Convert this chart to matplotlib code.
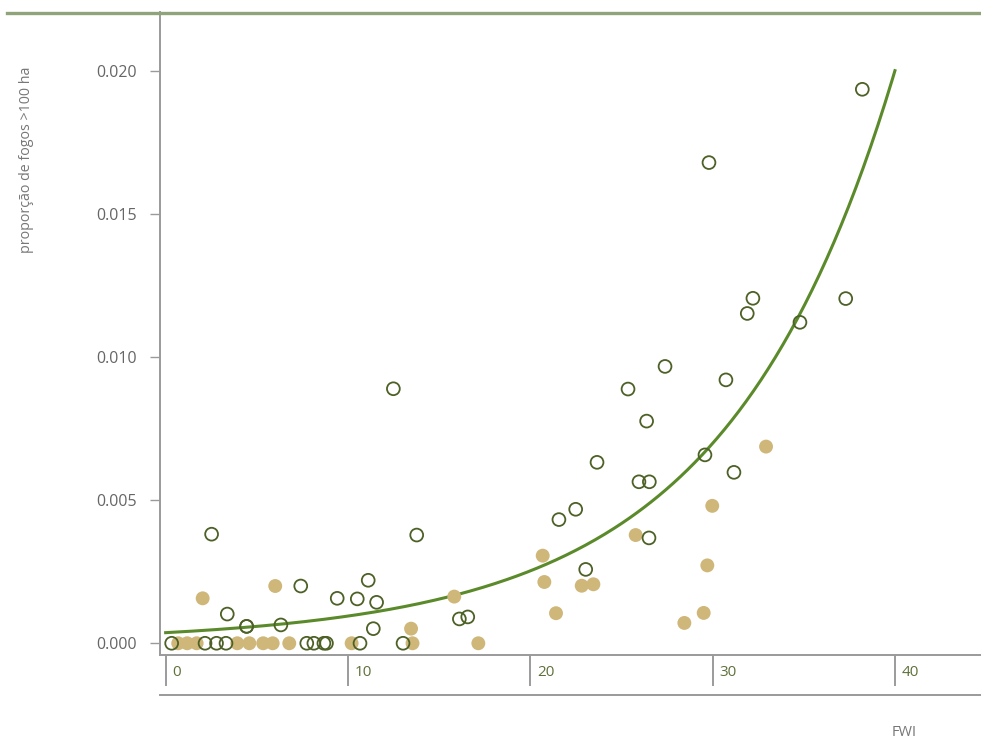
import numpy as np
import matplotlib
matplotlib.use('Agg')
from matplotlib import pyplot as plt
from matplotlib.lines import Line2D

# open circles (one group of years)
open_x = [0.33, 2.16, 2.79, 3.31, 7.74, 8.13, 8.68, 8.82, 10.66, 13.02,
          4.44, 4.44, 6.32, 3.38, 2.52, 7.41, 9.41, 10.51, 11.11, 11.57,
          11.39, 12.49, 13.77, 16.11, 16.57,
          21.57, 22.49, 23.04, 23.66, 25.36, 25.96, 26.38, 26.53, 26.51, 27.39,
          29.58, 29.80, 30.73, 31.17, 31.90, 32.21, 34.79, 37.30, 38.21]
open_y = [0, 0, 0, 0, 0, 0, 0, 0, 0, 0,
          0.00059, 0.00059, 0.00064, 0.00102, 0.00381, 0.00200, 0.00157, 0.00155, 0.00220, 0.00143,
          0.00051, 0.00889, 0.00378, 0.00085, 0.00092,
          0.00432, 0.00468, 0.00258, 0.00632, 0.00888, 0.00564, 0.00776, 0.00564, 0.00368, 0.00967,
          0.00658, 0.01679, 0.00920, 0.00597, 0.01152, 0.01205, 0.01121, 0.01204, 0.01935]

# filled points
fill_x = [0.69, 1.18, 1.70, 3.93, 4.59, 5.35, 5.87, 6.78, 10.20, 13.54, 17.15,
          2.03, 6.01, 13.46, 15.83, 20.68, 20.77, 21.41, 22.82, 23.46, 25.78,
          28.45, 29.51, 29.71, 29.98, 32.93]
fill_y = [0, 0, 0, 0, 0, 0, 0, 0, 0, 0, 0,
          0.00157, 0.00200, 0.00051, 0.00163, 0.00306, 0.00214, 0.00105, 0.00201, 0.00206, 0.00378,
          0.00071, 0.00106, 0.00272, 0.00480, 0.00687]

# fitted curve: y = exp(c0 + c1*x + c2*x^2), 0 <= FWI <= 40
c0, c1, c2 = -7.902, 0.09245, 0.0001825

xticks = [0, 10, 20, 30, 40]
yticks = [0.000, 0.005, 0.010, 0.015, 0.020]

plt.rcParams['font.family'] = ['Open Sans', 'DejaVu Sans']

fig = plt.figure(figsize=(9.81, 7.39), dpi=100)
ax = fig.add_axes([160/981, 84/739, 821/981, 643/739])

xc = np.linspace(0, 40, 300)
ax.plot(xc, np.exp(c0 + c1*xc + c2*xc**2), color='#5b8a2b', lw=2.2, zorder=2)
ax.scatter(fill_x, fill_y, s=100, color='#cfb679', edgecolors='none', zorder=3)
ax.scatter(open_x, open_y, s=85, facecolors='none', edgecolors='#4d6127', linewidths=1.3, zorder=4)

ax.set_xlim(-0.31, 44.72)
ax.set_ylim(-0.00041, 0.02205)

for s in ['top', 'right']:
    ax.spines[s].set_visible(False)
for s in ['left', 'bottom']:
    ax.spines[s].set_color('#9a9a9a')
    ax.spines[s].set_linewidth(1.4)

ax.set_yticks(yticks)
ax.set_yticklabels(['%.3f' % v for v in yticks])
ax.tick_params(axis='y', length=7, width=1, color='#9a9a9a', labelsize=11.5, labelcolor='#666666', pad=10)

ax.set_xticks(xticks)
ax.set_xticklabels([''] * len(xticks))
ax.tick_params(axis='x', length=22, width=1.2, color='#8a8a8a')
for v in xticks:
    ax.annotate(str(v), xy=(v, 0), xycoords=('data', 'axes fraction'),
                xytext=(5, -12.5), textcoords='offset points', ha='left', va='center',
                fontsize=11, color='#5e7039')

ax.set_ylabel('proporção de fogos >100 ha', fontsize=10.3, color='#777777')
ax.yaxis.set_label_coords(-0.154, 0.77)

# decorative lines
fig.add_artist(Line2D([7/981, 1], [1 - 12.5/739, 1 - 12.5/739], color='#8fa47a', lw=2.4))
fig.add_artist(Line2D([160/981, 1], [1 - 695/739, 1 - 695/739], color='#9a9a9a', lw=1.4))

fig.text(904/981, 1 - 732/739, 'FWI', fontsize=10.5, color='#777777', ha='center', va='center')

fig.savefig('out.png', dpi=100)
